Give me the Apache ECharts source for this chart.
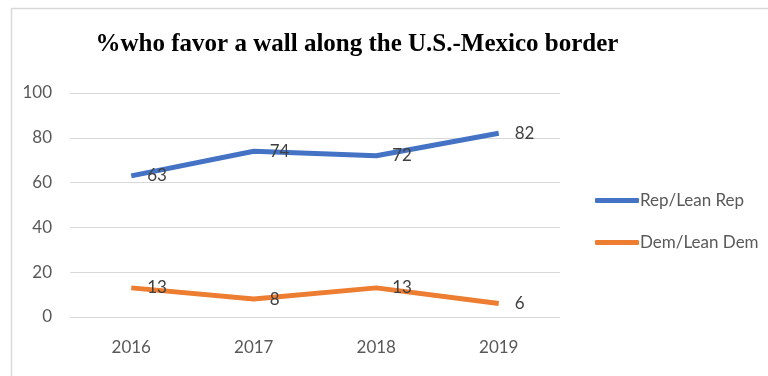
<!DOCTYPE html>
<html>
<head>
<meta charset="utf-8">
<script src="https://cdn.jsdelivr.net/npm/echarts@6/dist/echarts.min.js"></script>
<style>
  html, body { margin: 0; padding: 0; background: #fff; }
  #chart { width: 768px; height: 376px; }
</style>
</head>
<body>
<div id="chart"></div>
<script>
const years = ['2016', '2017', '2018', '2019'];
const repValues = [63, 74, 72, 82];
const demValues = [13, 8, 13, 6];

const labelFont = 'Lato, "Open Sans", sans-serif';

const chart = echarts.init(document.getElementById('chart'));

const lineSeries = (name, data, color) => ({
  name: name,
  type: 'line',
  data: data,
  symbol: 'circle',
  symbolSize: 0,
  showSymbol: true,
  lineStyle: { width: 5, color: color },
  itemStyle: { color: color },
  label: {
    show: true,
    position: 'right',
    distance: 16,
    color: '#404040',
    fontSize: 17,
    fontFamily: labelFont
  }
});

chart.setOption({
  animation: false,
  backgroundColor: '#fff',
  graphic: [{
    type: 'rect',
    left: 9, top: 6,
    shape: { width: 800, height: 400 },
    style: { fill: 'none', stroke: '#d9d9d9', lineWidth: 1.5 }
  }],
  title: {
    text: '%who favor a wall along the U.S.-Mexico border',
    left: 352, top: 27,
    textAlign: 'center',
    textStyle: {
      fontFamily: '"Liberation Serif", "Times New Roman", serif',
      fontWeight: 'bold',
      fontSize: 25,
      color: '#000'
    }
  },
  legend: {
    orient: 'vertical',
    left: 590, top: 187,
    itemWidth: 44, itemHeight: 5,
    itemGap: 25,
    icon: 'roundRect',
    textStyle: { color: '#595959', fontSize: 17, fontFamily: labelFont, padding: [0, 0, 0, -4] },
    data: ['Rep/Lean Rep', 'Dem/Lean Dem']
  },
  grid: { left: 70, right: 208, top: 93, bottom: 59, containLabel: false },
  xAxis: {
    type: 'category',
    data: years,
    boundaryGap: true,
    axisLine: { show: false },
    axisTick: { show: false },
    axisLabel: { color: '#595959', fontSize: 17, fontFamily: labelFont, margin: 22 }
  },
  yAxis: {
    type: 'value',
    min: 0, max: 100, interval: 20,
    axisLine: { show: false },
    axisTick: { show: false },
    axisLabel: { color: '#595959', fontSize: 17, fontFamily: labelFont, margin: 18 },
    splitLine: { lineStyle: { color: '#d9d9d9', width: 1 } }
  },
  series: [
    lineSeries('Rep/Lean Rep', repValues, '#4472C4'),
    lineSeries('Dem/Lean Dem', demValues, '#ED7D31')
  ]
});
</script>
</body>
</html>
